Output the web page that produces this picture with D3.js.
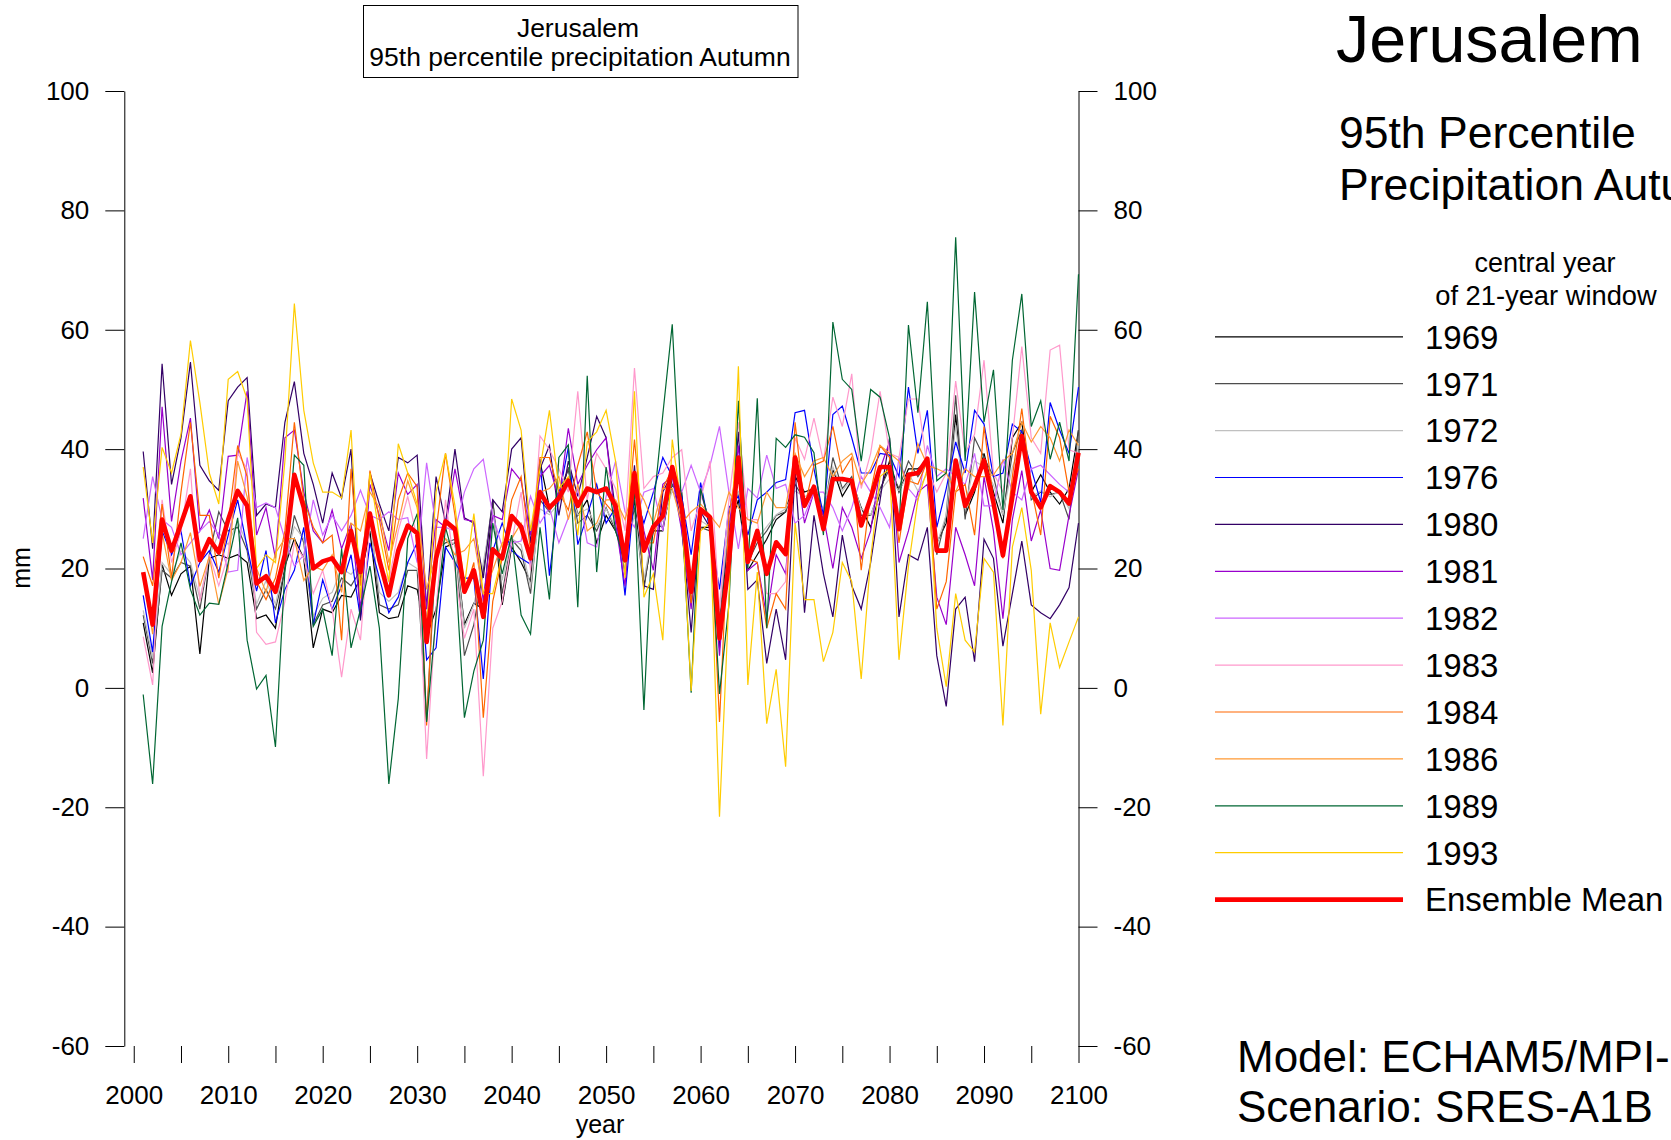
<!DOCTYPE html>
<html>
<head>
<meta charset="utf-8">
<script src="https://cdn.jsdelivr.net/npm/d3@7"></script>
<style>
  body { margin: 0; background: #fff; }
  svg { display: block; }
  text { font-family: "Liberation Sans", Arial, Helvetica, sans-serif; fill: #000; }
</style>
</head>
<body>
<svg id="chart" width="1671" height="1140"></svg>
<script>
// 95th percentile autumn precipitation (mm), yearly values 2001-2100,
// one series per central year of the 21-year calibration window.
const firstYear = 2001;

const s1969 = [10.9,2.5,20.7,15.5,19.1,20.4,5.7,21.7,22.3,21.7,22.3,21,
  11.6,12.2,10,20.4,25,21.7,6.7,13.2,12.6,15.5,15.2,18.4,26.3,
  12.6,11.6,11.9,17.1,16.5,8.6,13.2,23.6,24.3,10.6,14.2,13.2,31.5,
  13.9,23.6,21,17.8,38,30.2,32.1,36.7,28.9,31.5,24.3,28.9,26.3,
  22.3,31.5,17.1,26.3,26.3,35.4,32.8,13.9,26.9,26.9,10,26.3,
  31.5,19.7,22.3,24.9,28.2,29.5,35.4,32.8,33.4,27.6,36.7,32.1,34.7,
  30.2,26.9,32.8,38,32.8,36.7,36.7,38,24.3,27.6,45.8,28.9,32.8,
  39.3,32.8,27.6,41.9,44.5,32.8,35.7,32.8,30.8,33.4,43.2];

const s1971 = [12.2,4.1,19.7,18.4,21,20.4,13.2,22.3,29.5,26.3,26.9,23,
  13.2,16.5,13.2,19.7,28.9,24.3,10.6,13.9,14.5,18.4,17.1,19.7,29.5,
  13.9,13.2,13.9,19.7,19.7,-5.5,23,24.3,24.9,5.4,10.6,19.7,31.5,
  15.8,24.9,23,15.8,31.5,29.5,32.8,36.7,27.6,28.9,26.3,30.2,26.3,
  21.7,30.2,16.5,27.6,26.9,34.1,31.5,15.8,26.9,26.3,11.3,27.6,
  32.8,21,24.3,26.3,28.9,29.5,34.1,31.5,32.8,28.9,38.6,33.4,35.4,
  28.9,28.9,33.4,36.7,33.4,38,35.4,37.7,22.3,28.9,49,28.2,41.9,
  38.6,35.4,28.9,39.3,43.2,31.5,32.8,32.4,32.8,28.2,43.2];

const s1972 = [13,5,21,19,23,21,15,22,26,24,28,24,
  14,18,14,21,27,25,12,15,16,20,19,21,28,
  16,14.5,16,21,20,12,22,25,24,10,14,21,30,
  18,25,24,17,30,29,31,34,29,30,27,30,27,
  22,29,18,27,28,33,31,17,28,27,13,28,
  33,22,25,27,29,30,33,32,33,30,37,33,35,
  30,29,33,35,33,36,33,36,24,29,44,30,38,
  37,34,29,37,41,32,33,32,33,30,41];

const s1976 = [15.5,6,26.3,22.3,26.3,17.1,21,23,19.4,25.6,31.5,23.6,
  16.2,23,10.9,16.5,19.7,26.9,10.6,18.1,13.2,17.1,22.3,11.6,24.3,
  18.4,12.6,15.2,21,24.3,4.7,6.7,23.6,21,18.4,18.4,1.5,23,
  27.6,23,21.7,20.7,38.3,18.8,32.1,40.3,24,28.9,34.1,27.6,30.2,
  15.5,32.8,27.6,32.8,38.6,35.4,32.1,22.3,34.4,26.3,16.5,30.2,
  32.1,25.6,31.5,32.8,34.4,34.9,46.1,46.5,36.7,28.9,45.8,47.2,41.9,
  36,36,39.3,39,35.4,50.4,39.3,46.5,26.9,33.4,41.2,36,46.5,
  44.2,35.4,36,44.2,42.9,36.7,31.1,47.8,43.2,39.3,50.4];

const s1980 = [39.6,23.3,54.3,34.1,41.9,54.6,37.3,34.7,33.1,48.1,50.4,52,
  28.9,30.8,30.2,44.5,51.3,39.3,34.1,27.6,36,31.8,40,11.3,36,
  30.8,26.3,38.6,37.7,39,13.2,35.4,27.6,40,28.5,27.6,18.4,31.5,
  29.5,40,41.9,24.3,36.7,40.6,28.9,38,32.1,38.6,45.5,41.9,29.5,
  19,37.3,17.1,16.5,32.8,36,26.9,9.3,29.5,26.9,6.7,22.3,
  42.9,16.5,18.1,4.1,13.2,4.7,36.7,12.6,28.9,19.1,11.9,25.6,17.1,
  13.2,21,31.5,41.9,11.9,22.3,21.4,26.9,5.4,-3.1,13.2,15.2,4.4,
  24.9,21.7,7,15.8,24.6,13.9,12.6,11.6,13.9,16.8,27.6];

const s1981 = [31.8,18.1,47.1,27.9,38,45.2,26.3,29.8,25,38.8,39,49.7,
  25.6,30.2,21.7,41.9,43.2,32.8,26.3,24.3,29.8,23.3,27.6,13.2,34.1,
  28.9,23,36,32.4,34.1,13.2,28.2,26.9,36.7,28.2,27.9,14.5,28.9,
  28.2,36.7,34.7,25.6,35.4,37.3,31.5,43.5,34.1,37.3,39.9,41.9,27.6,
  17.1,36,26.3,19.7,34.1,35.4,26.3,13.2,32.8,27.6,5.4,26.3,
  40.6,19.7,21,11.9,22.3,19.1,38.6,27.6,32.8,28.9,20,30.2,26.9,
  21.7,26.3,36.7,41.2,21,26.3,32.8,34.1,15.2,10.6,26.9,22.3,17.1,
  35.4,26.3,11.6,28.2,36.4,24.6,29.8,20,19.7,28.9,36.7];

const s1982 = [25,35.4,28.2,26.9,22.3,24.3,26.3,27.9,25.6,19.4,19.7,38.6,
  30.2,31,30.2,24.9,20.4,22.3,31.5,25.6,28.9,26.3,28.9,33.1,28.9,
  28.2,29.5,28.2,28.5,21,37.7,26.9,26.9,26.3,32.8,36.7,38.3,28.9,
  23.6,24.3,24.6,32.1,27.6,30.2,24.3,28.5,33.4,24.3,23.6,32.1,38,
  29.5,26.9,32.8,33.4,26.3,36.7,32.8,37.3,32.8,37.3,43.8,32.8,
  23.3,33.4,31.8,39,33.4,34.1,27.6,28.9,32.8,32.8,30.2,26.3,30.2,
  35.4,32.8,30.2,26.9,38.6,33.4,31.5,40.6,35.4,36.7,35.4,34.1,39.3,
  30.5,30.5,38.3,32.8,31.5,36.7,37.3,35.7,34.1,32.8,39.3];

const s1983 = [8.6,0.5,31.5,21,26.3,36.7,14.5,22.3,17.1,22.3,39.3,36.7,
  9.3,7.3,7.7,14.5,24.3,21.7,15.8,19.7,13.2,1.8,13.2,8,27.6,
  21,17.8,26.3,32.1,25,-11.9,13.2,31.5,19.7,8.3,13.2,-14.8,10,
  14.5,24.3,32.8,19.7,42.2,39.9,36.7,32.8,49.7,31.5,39.3,36.7,33.4,
  26.3,53.6,33.4,35.4,36,38.6,39.9,26.3,31.5,38,13.2,31.5,
  44.5,28.2,28.2,15.8,15.8,17.8,41.9,38.3,45.2,38,48.7,43.8,52.6,
  33.4,39.3,49.7,39.3,38.6,48.4,48.4,36.7,32.8,36,51.4,39.3,42.5,
  54.9,36,32.8,41.9,57.2,41.9,39.3,56.6,57.4,39.9,39.3];

const s1984 = [22,17.1,30.8,18.4,32.8,44.5,28.9,28.9,18.4,27.6,40.6,35.4,
  17.8,14.8,18.4,26.3,44.5,31.5,26.9,24.3,25.6,8,36.7,17.1,36.4,
  28.2,19.7,31.5,36,33.7,-6.3,26.3,39.3,28.9,15.8,21,-5,14.5,
  21.7,31.5,35.4,23,38.6,38.6,32.8,29.8,37.3,42.9,32.8,30.8,28.9,
  22.3,41.6,24.3,24.3,33.4,36.7,28.9,14.2,30.2,28.9,-5.7,28.9,
  38.6,21.7,21,10,15.8,13.2,44.5,30.2,37.3,38,43.8,36,38.6,
  19.7,32.8,40.6,38.6,24.3,34.7,34.1,38,13.2,17.8,32.8,34.1,25.6,
  43.8,31.5,21.7,35.4,46.8,33.4,25.6,45.5,41.9,32.8,36.7];

const s1986 = [19,9,26,18,21,26,17,22,14,20,38,32,
  20,16,22.6,25,25,18,20.4,19.7,22.3,16,27.6,26.3,32.8,
  30.2,21,27.6,34.7,30.2,16.5,22.3,25,22.3,23,25,15.8,19.7,
  24.3,25,27.6,21.7,32.8,33.4,35.4,28.2,34.1,26.3,27.6,31.5,31.5,
  28.2,34.1,31.5,27.6,33.4,33.4,27.6,29.5,30.8,28.9,26.9,32.8,
  30.2,28.2,27.6,32.8,30.2,30.2,39.3,35.4,38,38.6,35.4,38,39.3,
  34.1,36.7,40.6,39.3,38,33.4,40.9,37.3,36.7,36,32.8,36.7,35.4,
  35.4,35.7,38,39.3,44.5,41.2,43.8,41.9,38,43.2,40.6];

const s1989 = [-1.1,-16.1,10.3,17.8,24.3,16.5,12.2,14.2,14,21,28.5,8,
  -0.2,2.1,-9.9,19.7,39,37.3,10.3,13.2,5.4,23.3,6.7,13.2,20.4,
  10,-16.1,-1.8,25,29.2,-5.7,11.9,26.9,21.1,-5,2.8,8,27.6,
  19.1,25.6,12.2,9,26.9,14.8,38.6,40.7,13.5,52.3,19.4,37,26.3,
  21,32.8,-3.7,30,45.8,60.9,30,-0.8,33.4,27,-1,14,
  48.1,20,48.5,10,41.8,40.3,42.4,42,39.4,25.6,61.3,51.7,50,
  38,50,48.7,41.9,26.3,60.8,46.1,64.7,34.7,36,75.5,38,66.3,
  44.5,53.3,29.8,54.9,66,43.8,48.1,38.3,44.5,38,69.3];

const s1993 = [37,24.3,40.3,36,42.5,58.2,47.8,36,30.8,51.7,53,48.4,
  20,22.3,21,38,64.4,46.5,37.7,32.8,32.8,31.8,43.2,15,36,
  25.6,17.8,40.9,36,30.8,10,32.8,39.3,30.5,17.1,29.2,15.8,15.8,
  22.3,48.4,43.2,26.3,36.7,46.5,33.4,35.4,25.6,41.2,42.9,46.5,38,
  18.4,49.7,15.2,19.1,8,41.6,30.2,-0.5,26.3,27.6,-21.6,15,
  53.9,0.5,19.4,-6,3.1,-13.2,27.6,14.8,14.8,4.4,9.3,21,17.8,
  1.5,21.7,35.4,36.7,4.7,20.4,31.5,36.7,10,0.2,15.8,8,6,
  21.7,19.4,-6.3,23.6,30.2,19.7,-4.4,10.9,3.4,7.7,11.9];

const ensembleMean = [19.4,10.6,28.2,23,27.5,32.1,21.4,24.9,22.7,28.2,33,30.5,
  17.5,18.7,16.1,22.3,35.7,30.2,20,21.2,21.7,19.4,26.3,19.4,29.2,
  21.4,15.5,23,27.2,25.9,7.7,21.7,27.9,26.6,16.1,19.7,11.9,23.2,
  21.7,28.8,27,21.7,32.8,30.2,31.8,34.7,30.5,33.4,32.8,33.4,30.5,
  21.4,36,23,27,28.8,37,30.2,16.1,29.9,28.6,8.3,21.1,
  38.6,21.1,26.3,19.1,24.4,22.4,38.6,30.5,33.7,26.6,35,35,34.7,
  27.2,31.8,37,37,26.6,35.7,36,38.4,23,23,38.1,30.5,33.8,
  38.1,31,22.2,32,42.2,32.8,30.2,33.8,32.8,30.9,39.4];

const seriesNames = ["1969","1971","1972","1976","1980","1981","1982","1983","1984","1986","1989","1993"];
const seriesValues = [s1969,s1971,s1972,s1976,s1980,s1981,s1982,s1983,s1984,s1986,s1989,s1993];
const seriesColors = ["#000000","#4d4d4d","#c0c0c0","#0000ff","#330066","#9900cc","#cc66ff","#ff99cc","#ff6600","#ff9933","#006633","#ffcc00"];
const meanName = "Ensemble Mean";
const meanColor = "#ff0000";

const yTicks = [-60,-40,-20,0,20,40,60,80,100];
const xMajorTicks = [2000,2010,2020,2030,2040,2050,2060,2070,2080,2090,2100];
const xMinorTicks = [2005,2015,2025,2035,2045,2055,2065,2075,2085,2095];

// ---- layout ----
const svg = d3.select("#chart");
const plotLeft = 124.3, plotRight = 1078.5, plotTop = 91, plotBottom = 1046;
const x = d3.scaleLinear().domain([1999, 2100]).range([plotLeft, plotRight]);
const y = d3.scaleLinear().domain([-60, 100]).range([plotBottom, plotTop]);
const years = s1969.map((_, i) => firstYear + i);
const axisFont = 26;
const plainNumber = d => String(d);   // ASCII hyphen for negatives

function styleAxis(g) {
  g.selectAll("path,line").attr("stroke", "#000").attr("stroke-width", 1);
  g.selectAll("text").attr("font-size", axisFont).attr("fill", "#000")
    .attr("font-family", "'Liberation Sans', Arial, sans-serif");
}

svg.append("g").attr("transform", `translate(${plotLeft},0)`)
  .call(d3.axisLeft(y).tickValues(yTicks).tickFormat(plainNumber)
    .tickSize(19).tickSizeOuter(0).tickPadding(16))
  .call(styleAxis);

svg.append("g").attr("transform", `translate(${plotRight},0)`)
  .call(d3.axisRight(y).tickValues(yTicks).tickFormat(plainNumber)
    .tickSize(19).tickSizeOuter(0).tickPadding(16))
  .call(styleAxis);

const xAxisG = svg.append("g").attr("transform", `translate(0,${plotBottom})`)
  .call(d3.axisBottom(x).tickValues(xMajorTicks.concat(xMinorTicks))
    .tickFormat(d => xMajorTicks.includes(d) ? String(d) : "")
    .tickSize(17).tickSizeOuter(0).tickPadding(23))
  .call(styleAxis);
xAxisG.select(".domain").remove();

// axis titles
svg.append("text").attr("x", 600).attr("y", 1133).attr("text-anchor", "middle")
  .attr("font-size", 25).text("year");
svg.append("text").attr("transform", "translate(30,568) rotate(-90)")
  .attr("text-anchor", "middle").attr("font-size", 25).text("mm");

// ---- series ----
const line = d3.line().x((d, i) => x(years[i])).y(d => y(d));
const linesG = svg.append("g").attr("fill", "none");
seriesValues.forEach((vals, k) => {
  linesG.append("path").datum(vals).attr("d", line)
    .attr("stroke", seriesColors[k]).attr("stroke-width", 1.2)
    .attr("stroke-linejoin", "miter");
});
linesG.append("path").datum(ensembleMean).attr("d", line)
  .attr("stroke", meanColor).attr("stroke-width", 4.6)
  .attr("stroke-linejoin", "round");

// ---- boxed title ----
svg.append("rect").attr("x", 363.5).attr("y", 5.5).attr("width", 434.5).attr("height", 72)
  .attr("fill", "#fff").attr("stroke", "#000").attr("stroke-width", 1);
svg.append("text").attr("x", 578).attr("y", 36.5).attr("text-anchor", "middle")
  .attr("font-size", 26.5).text("Jerusalem");
svg.append("text").attr("x", 580).attr("y", 66).attr("text-anchor", "middle")
  .attr("font-size", 26.5).text("95th percentile precipitation Autumn");

// ---- right-hand header ----
svg.append("text").attr("x", 1336).attr("y", 61.5).attr("font-size", 66.5).text("Jerusalem");
svg.append("text").attr("x", 1339).attr("y", 148).attr("font-size", 44.5).text("95th Percentile");
svg.append("text").attr("x", 1339).attr("y", 200).attr("font-size", 44.5).text("Precipitation Autumn");
svg.append("text").attr("x", 1545).attr("y", 272).attr("text-anchor", "middle")
  .attr("font-size", 27).text("central year");
svg.append("text").attr("x", 1546).attr("y", 305).attr("text-anchor", "middle")
  .attr("font-size", 27.3).text("of 21-year window");

// ---- legend ----
const legendItems = seriesNames.map((n, k) => ({ name: n, color: seriesColors[k], width: 1.2 }))
  .concat([{ name: meanName, color: meanColor, width: 4.6 }]);
const legendRow = d3.scaleLinear().domain([0, 1]).range([336.8, 383.7]);
const legend = svg.append("g");
legendItems.forEach((it, i) => {
  const ly = legendRow(i);
  legend.append("line").attr("x1", 1215).attr("x2", 1403).attr("y1", ly).attr("y2", ly)
    .attr("stroke", it.color).attr("stroke-width", it.width);
  legend.append("text").attr("x", 1425).attr("y", ly + 11.8).attr("font-size", 33).text(it.name);
});

// ---- model / scenario ----
svg.append("text").attr("x", 1237).attr("y", 1072).attr("font-size", 44).text("Model: ECHAM5/MPI-OM");
svg.append("text").attr("x", 1237).attr("y", 1122).attr("font-size", 44).text("Scenario: SRES-A1B");
</script>
</body>
</html>
